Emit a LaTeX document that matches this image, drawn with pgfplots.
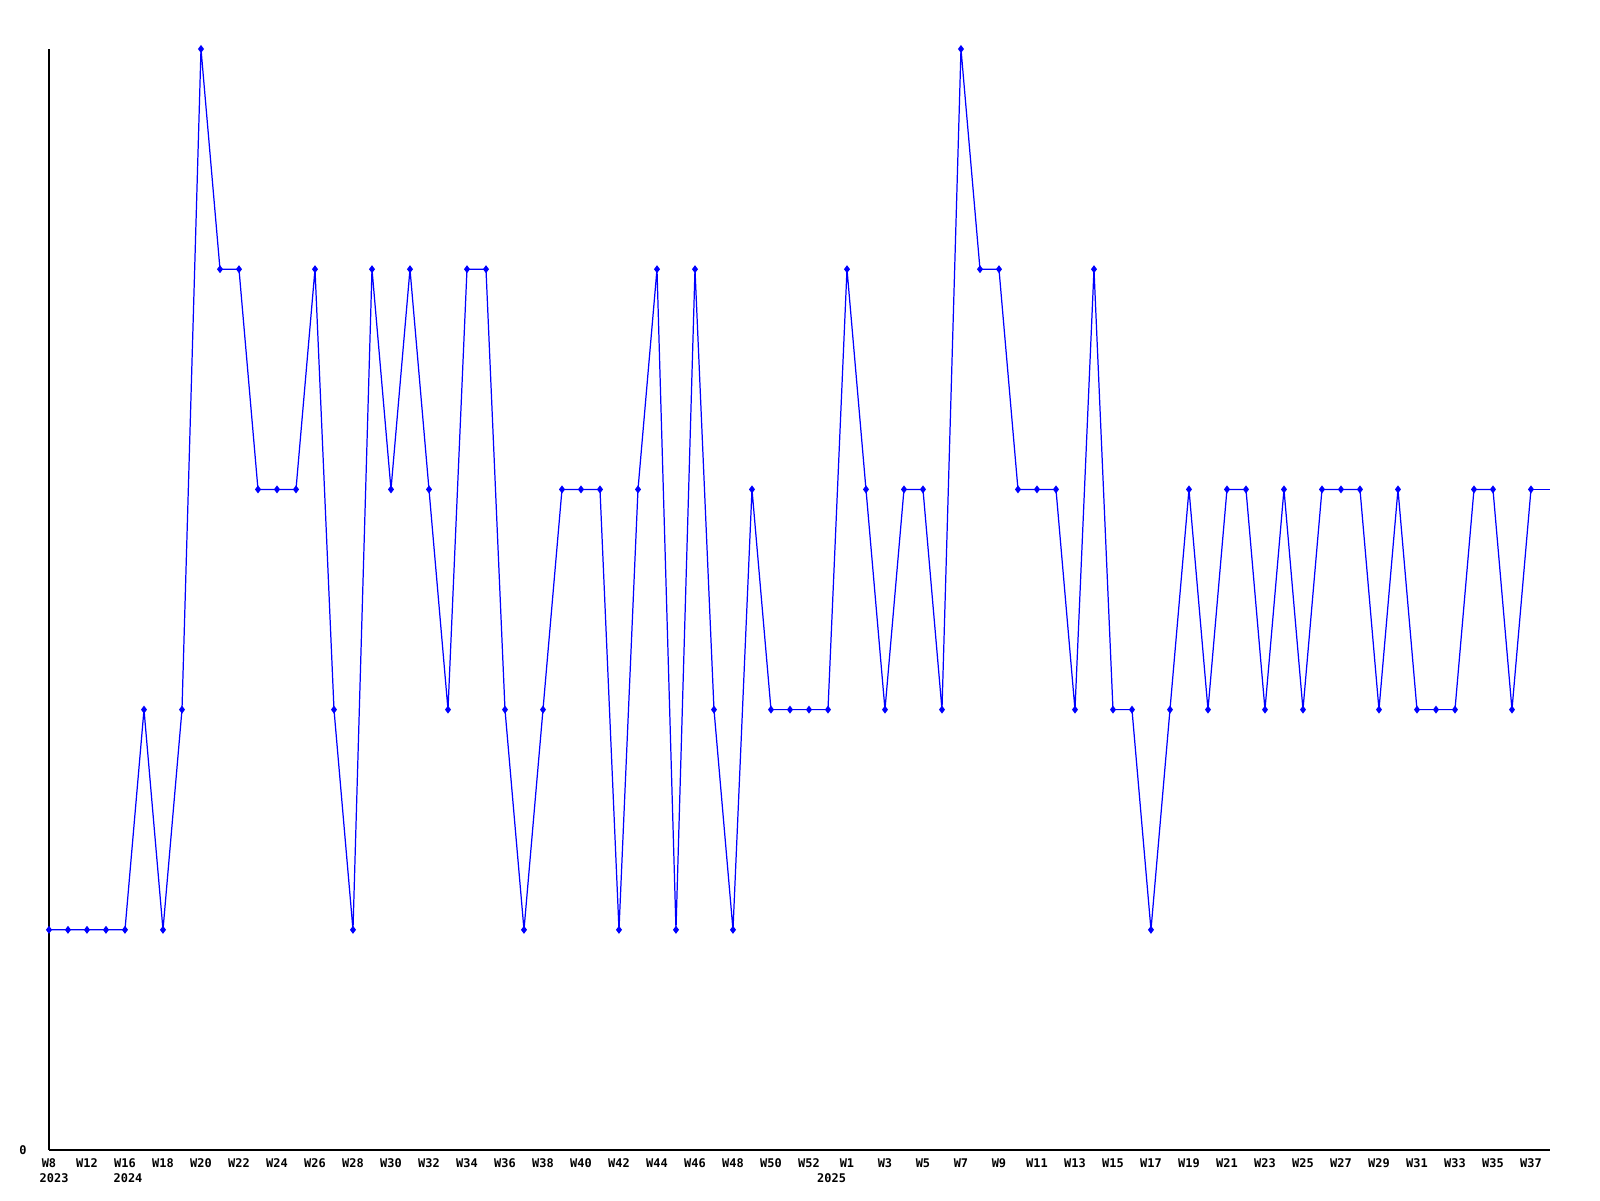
\documentclass[border=0pt]{standalone}
\usepackage{pgfplots}
\pgfplotsset{compat=1.18}
\usepackage{pgfplotstable}
\usepackage{fontspec}
\setmonofont{DejaVu Sans Mono}
\pgfplotstableread{
x y
0 1
1 1
2 1
3 1
4 1
5 2
6 1
7 2
8 5
9 4
10 4
11 3
12 3
13 3
14 4
15 2
16 1
17 4
18 3
19 4
20 3
21 2
22 4
23 4
24 2
25 1
26 2
27 3
28 3
29 3
30 1
31 3
32 4
33 1
34 4
35 2
36 1
37 3
38 2
39 2
40 2
41 2
42 4
43 3
44 2
45 3
46 3
47 2
48 5
49 4
50 4
51 3
52 3
53 3
54 2
55 4
56 2
57 2
58 1
59 2
60 3
61 2
62 3
63 3
64 2
65 3
66 2
67 3
68 3
69 3
70 2
71 3
72 2
73 2
74 2
75 3
76 3
77 2
78 3
}\marked
\pgfplotstableread{
x y
78 3
79 3
}\tail
\begin{document}
\begin{tikzpicture}
\path[use as bounding box] (-0.49cm,-0.50cm) rectangle (15.51cm,11.50cm);
\begin{axis}[
  at={(0,0)}, anchor=south west,
  scale only axis, width=15.01cm, height=11.01cm,
  xmin=0, xmax=79, ymin=0, ymax=5,
  axis x line=bottom, axis y line=left,
  axis line style={-, line width=0.35pt, black},
  major tick length=0pt,
  xtick={0,2,...,78},
  xticklabels={W8,W12,W16,W18,W20,W22,W24,W26,W28,W30,W32,W34,W36,W38,W40,W42,W44,W46,W48,W50,W52,W1,W3,W5,W7,W9,W11,W13,W15,W17,W19,W21,W23,W25,W27,W29,W31,W33,W35,W37},
  ytick={0}, yticklabels={0},
  tick label style={font=\ttfamily\bfseries\fontsize{3.4pt}{4pt}\selectfont},
  x tick label style={anchor=north, yshift=0.04cm},
  y tick label style={anchor=east, xshift=-0.1cm},
  extra x ticks={0.27,4.16,41.19},
  extra x tick labels={2023,2024,2025},
  extra x tick style={tick label style={yshift=-0.15cm}},
  clip=false,
]
\addplot[blue, line width=0.35pt, mark=diamond*, mark size=0.85pt, mark options={fill=blue, draw=blue}] table {\marked};
\addplot[blue, line width=0.35pt, no marks] table {\tail};
\end{axis}
\end{tikzpicture}
\end{document}
